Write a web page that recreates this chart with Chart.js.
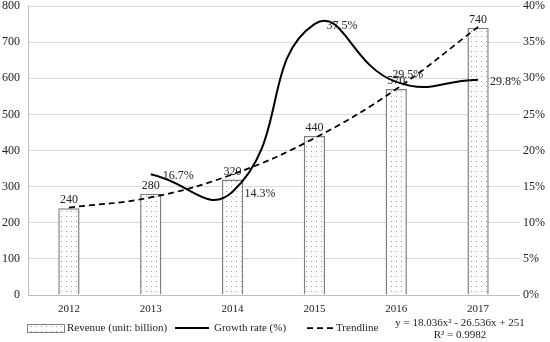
<!DOCTYPE html>
<html>
<head>
<meta charset="utf-8">
<script src="https://cdn.jsdelivr.net/npm/chart.js@4.4.1/dist/chart.umd.min.js"></script>
<style>
  html, body { margin: 0; padding: 0; background: #fff; }
  #wrap { width: 550px; height: 342px; position: relative; }
</style>
</head>
<body>
<div id="wrap"><canvas id="mixChart"></canvas></div>
<script>
// data
const years = ['2012', '2013', '2014', '2015', '2016', '2017'];
const revenue = [240, 280, 320, 440, 570, 740];
const growth = [null, 16.7, 14.3, 37.5, 29.5, 29.8];
const trend = [242, 270, 334, 434, 570, 742];
const revenueTicks = [0, 100, 200, 300, 400, 500, 600, 700, 800];
const growthTicks = [0, 5, 10, 15, 20, 25, 30, 35, 40];

const FONT = '"Liberation Serif", "Times New Roman", serif';

// dotted fill like the original bars
function dotPattern() {
    const c = document.createElement('canvas');
    c.width = 5; c.height = 5;
    const g = c.getContext('2d');
    g.fillStyle = '#fff';
    g.fillRect(0, 0, 5, 5);
    g.fillStyle = '#9a9a9a';
    g.fillRect(1, 1, 1, 1);
    return g.createPattern(c, 'repeat');
}

const labelsPlugin = {
    id: 'labels',
    afterDatasetsDraw(chart) {
        const ctx = chart.ctx;
        const x = chart.scales.x, y = chart.scales.y, y1 = chart.scales.y1;
        ctx.save();
        ctx.font = '12px ' + FONT;
        ctx.fillStyle = '#222';
        // revenue labels above bars
        ctx.textAlign = 'center';
        ctx.textBaseline = 'bottom';
        revenue.forEach((v, i) => {
            ctx.fillText(String(v), x.getPixelForValue(i), y.getPixelForValue(v) - 2);
        });
        // growth labels right of points
        ctx.textAlign = 'left';
        ctx.textBaseline = 'middle';
        growth.forEach((v, i) => {
            if (v === null) return;
            let px = x.getPixelForValue(i) + 12;
            let py = y1.getPixelForValue(v) + 2;
            if (i === 4) { px -= 16; py -= 9; }
            ctx.fillText(v.toFixed(1) + '%', px, py);
        });
        ctx.restore();
    },
    afterDraw(chart) {
        const ctx = chart.ctx;
        ctx.save();
        ctx.font = '11px ' + FONT;
        ctx.fillStyle = '#222';
        ctx.textBaseline = 'middle';
        ctx.textAlign = 'left';
        const ly = 328;
        // bar swatch
        ctx.fillStyle = dotPattern();
        ctx.fillRect(27, 324, 37, 8);
        ctx.strokeStyle = '#7f7f7f';
        ctx.lineWidth = 1;
        ctx.strokeRect(27.5, 324.5, 37, 8);
        ctx.fillStyle = '#222';
        ctx.fillText('Revenue (unit: billion)', 67, ly);
        // growth swatch
        ctx.strokeStyle = '#000';
        ctx.lineWidth = 2;
        ctx.beginPath(); ctx.moveTo(175, ly); ctx.lineTo(209, ly); ctx.stroke();
        ctx.fillText('Growth rate (%)', 214, ly);
        // trend swatch
        ctx.lineWidth = 1.75;
        ctx.setLineDash([6, 4]);
        ctx.beginPath(); ctx.moveTo(307, ly); ctx.lineTo(333, ly); ctx.stroke();
        ctx.setLineDash([]);
        ctx.fillText('Trendline', 336, ly);
        // equation
        ctx.textAlign = 'center';
        ctx.fillText('y = 18.036x\u00B2 - 26.536x + 251', 460, 323);
        ctx.fillText('R\u00B2 = 0.9982', 460, 335);
        ctx.restore();
    }
};

const ctx = document.querySelector('#mixChart').getContext('2d');
new Chart(ctx, {
    type: 'bar',
    data: {
        labels: years,
        datasets: [
            {
                type: 'line',
                label: 'Growth rate (%)',
                data: growth,
                yAxisID: 'y1',
                borderColor: '#000',
                borderWidth: 2,
                pointRadius: 0,
                tension: 0.5,
                fill: false,
                order: 1
            },
            {
                type: 'line',
                label: 'Trendline',
                data: trend,
                yAxisID: 'y',
                borderColor: '#000',
                borderWidth: 1.75,
                borderDash: [6, 4],
                pointRadius: 0,
                tension: 0.4,
                fill: false,
                order: 2
            },
            {
                label: 'Revenue (unit: billion)',
                data: revenue,
                yAxisID: 'y',
                backgroundColor: dotPattern(),
                borderColor: '#7f7f7f',
                borderWidth: 1.5,
                barPercentage: 0.26,
                categoryPercentage: 1,
                order: 3
            }
        ]
    },
    options: {
        responsive: true,
        maintainAspectRatio: false,
        animation: false,
        layout: { padding: { top: 6, right: 4, left: 0, bottom: 0 } },
        plugins: {
            legend: { display: false },
            tooltip: { enabled: false }
        },
        scales: {
            x: {
                grid: { display: false, drawTicks: false },
                border: { color: '#bfbfbf' },
                ticks: { color: '#222', font: { family: FONT, size: 11 }, padding: 8 },
                afterFit(s) { s.height = 47; s.paddingLeft = 0; s.paddingRight = 0; }
            },
            y: {
                position: 'left',
                min: 0, max: 800,
                afterBuildTicks(s) { s.ticks = revenueTicks.map(v => ({ value: v })); },
                grid: { color: '#d9d9d9', drawTicks: false },
                border: { color: '#bfbfbf' },
                ticks: { color: '#222', font: { family: FONT, size: 12 }, padding: 8 },
                afterFit(s) { s.width = 28; s.paddingTop = 0; s.paddingBottom = 0; }
            },
            y1: {
                position: 'right',
                min: 0, max: 40,
                afterBuildTicks(s) { s.ticks = growthTicks.map(v => ({ value: v })); },
                grid: { display: false, drawTicks: false },
                border: { display: false },
                ticks: {
                    color: '#222', font: { family: FONT, size: 12 }, padding: 4,
                    callback: v => v + '%'
                },
                afterFit(s) { s.width = 27; s.paddingTop = 0; s.paddingBottom = 0; }
            }
        }
    },
    plugins: [labelsPlugin]
});
</script>
</body>
</html>
